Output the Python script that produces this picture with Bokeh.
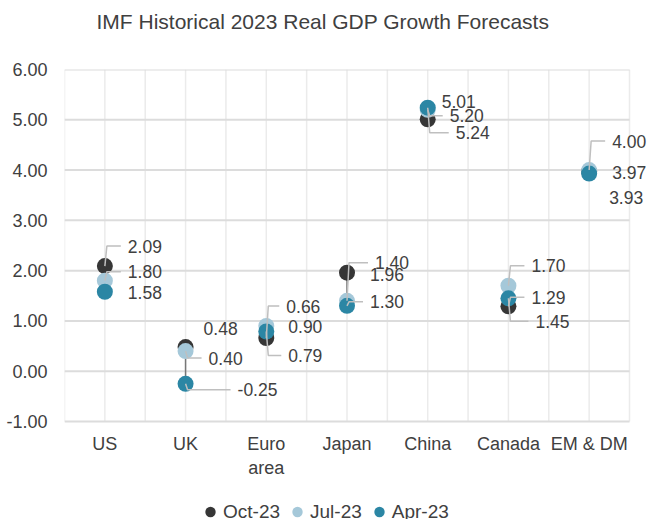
from bokeh.plotting import figure
from bokeh.models import (Range1d, FixedTicker, NumeralTickFormatter, ColumnDataSource,
                          Legend, LegendItem, LabelSet, Title)
from bokeh.core.properties import value
from bokeh.embed import file_html
from bokeh.resources import INLINE

# ---- data ----
categories = ["US", "UK", "Euro\narea", "Japan", "China", "Canada", "EM & DM"]
series_names = ["Oct-23", "Jul-23", "Apr-23"]
oct23 = [2.09, 0.48, 0.66, 1.96, 5.01, 1.29, 3.97]
jul23 = [1.80, 0.40, 0.90, 1.40, 5.20, 1.70, 4.00]
apr23 = [1.58, -0.25, 0.79, 1.30, 5.24, 1.45, 3.93]
y_ticks = [-1, 0, 1, 2, 3, 4, 5, 6]
title_text = "IMF Historical 2023 Real GDP Growth Forecasts"

# ---- label placement (screen px offsets from the dot, dy positive = up) ----
oct_dx = [23, 18, 20, 23, 14, 23, 23]
oct_dy = [20, 19, 32, -2, 18, 9, -1]
jul_dx = [23, 23, 22, 28, 22, 23, 23]
jul_dy = [9, -7, -1, 38, -6, 20, 29]
apr_dx = [23, 52, 22, 23, 28, 27, 20]
apr_dy = [-1, -6, -24, 4, -25, -23, -24]
oct_lead = [1, 0, 1, 0, 0, 1, 0]
jul_lead = [1, 1, 0, 1, 1, 1, 1]
apr_lead = [0, 1, 1, 1, 1, 1, 0]

colors = ["#363636", "#a5c8d9", "#2b86a4"]
FONT = "Liberation Sans"
TXT = "#404040"

W, H = 649, 519
BL, BT = 64, 69
GRID_W, GRID_H = 565, 352          # gridded plot area in px
fw, fh = W - BL, H - BT
n = len(categories)
sx = GRID_W / n
sy = GRID_H / (y_ticks[-1] - y_ticks[0])
x_end = -0.5 + fw / sx             # frame runs past the grid so outer labels/legend are not clipped
y_bot = y_ticks[-1] - fh / sy

p = figure(width=W, height=H, output_backend="svg", toolbar_location=None,
           x_range=Range1d(-0.5, x_end), y_range=Range1d(y_bot, y_ticks[-1]),
           min_border_left=BL, min_border_right=0, min_border_top=BT, min_border_bottom=0)
p.title_location = None
p.outline_line_color = None
p.background_fill_color = "white"
p.border_fill_color = "white"
p.xgrid.visible = False
p.ygrid.visible = False

# spacer (closest to the frame) then the real title
p.add_layout(Title(text=" ", text_font_size="2px", standoff=31), "above")
p.add_layout(Title(text=title_text, align="left", offset=32, text_font=FONT,
                   text_font_size="21px", text_font_style="normal", text_color=TXT,
                   standoff=4), "above")

# axes
p.xaxis.ticker = FixedTicker(ticks=list(range(n)))
p.xaxis.major_label_overrides = {i: c for i, c in enumerate(categories)}
p.xaxis.fixed_location = y_ticks[0]
p.yaxis.ticker = FixedTicker(ticks=y_ticks)
p.yaxis.formatter = NumeralTickFormatter(format="0.00")
for ax in (p.xaxis[0], p.yaxis[0]):
    ax.axis_line_color = None
    ax.major_tick_line_color = None
    ax.minor_tick_line_color = None
    ax.major_label_text_font = FONT
    ax.major_label_text_font_size = "18px"
    ax.major_label_text_color = TXT
p.xaxis.major_label_standoff = 6
p.yaxis.major_label_standoff = 11

# grid lines, limited to the category area
vx = [i * 0.5 - 0.5 for i in range(2 * n + 1)]
p.segment(x0=vx, x1=vx, y0=[y_ticks[0]] * len(vx), y1=[y_ticks[-1]] * len(vx),
          line_color="#ebebeb", line_width=1.5, level="underlay")
p.segment(x0=[-0.5] * len(y_ticks), x1=[n - 0.5] * len(y_ticks), y0=y_ticks, y1=y_ticks,
          line_color="#dcdcdc", line_width=2, level="underlay")

xs = list(range(n))
# range lines
lo = [min(a, b, c) for a, b, c in zip(oct23, jul23, apr23)]
hi = [max(a, b, c) for a, b, c in zip(oct23, jul23, apr23)]
p.segment(x0=xs, y0=lo, x1=xs, y1=hi, line_color="#777777", line_width=1.5)

renderers = []
for vals, col in zip([oct23, jul23, apr23], colors):
    r = p.scatter(xs, vals, size=16, fill_color=col, line_color=col, line_width=0)
    renderers.append(r)

# leaders & labels
lx, ly, tx, ty, tt, tdx, tdy = [], [], [], [], [], [], []
for vals, dxs, dys, leads in [(oct23, oct_dx, oct_dy, oct_lead),
                              (jul23, jul_dx, jul_dy, jul_lead),
                              (apr23, apr_dx, apr_dy, apr_lead)]:
    for i, v in enumerate(vals):
        tx.append(i); ty.append(v); tt.append(f"{v:.2f}")
        tdx.append(dxs[i]); tdy.append(dys[i])
        if leads[i]:
            yl = v + dys[i] / sy
            lx.append([i, i + 2 / sx, i + (dxs[i] - 7) / sx])
            ly.append([v, yl, yl])
p.multi_line(xs=lx, ys=ly, line_color="#bfbfbf", line_width=1.5)

src = ColumnDataSource(dict(x=tx, y=ty, t=tt, dx=tdx, dy=tdy))
labels = LabelSet(x="x", y="y", text="t", x_offset="dx", y_offset="dy", source=src,
                  text_baseline="middle", text_align="left", text_font=value(FONT),
                  text_font_size=value("17.5px"), text_color=TXT)
p.add_layout(labels)

legend = Legend(items=[LegendItem(label=s, renderers=[r]) for s, r in zip(series_names, renderers)],
                orientation="horizontal", location=(133, -6),
                glyph_width=26, glyph_height=27, label_standoff=0, spacing=4,
                padding=0, margin=0, border_line_color=None, background_fill_alpha=0,
                label_text_font=FONT, label_text_font_size="19px", label_text_color=TXT)
p.add_layout(legend, "center")

open("out.html", "w").write(file_html(p, INLINE))
